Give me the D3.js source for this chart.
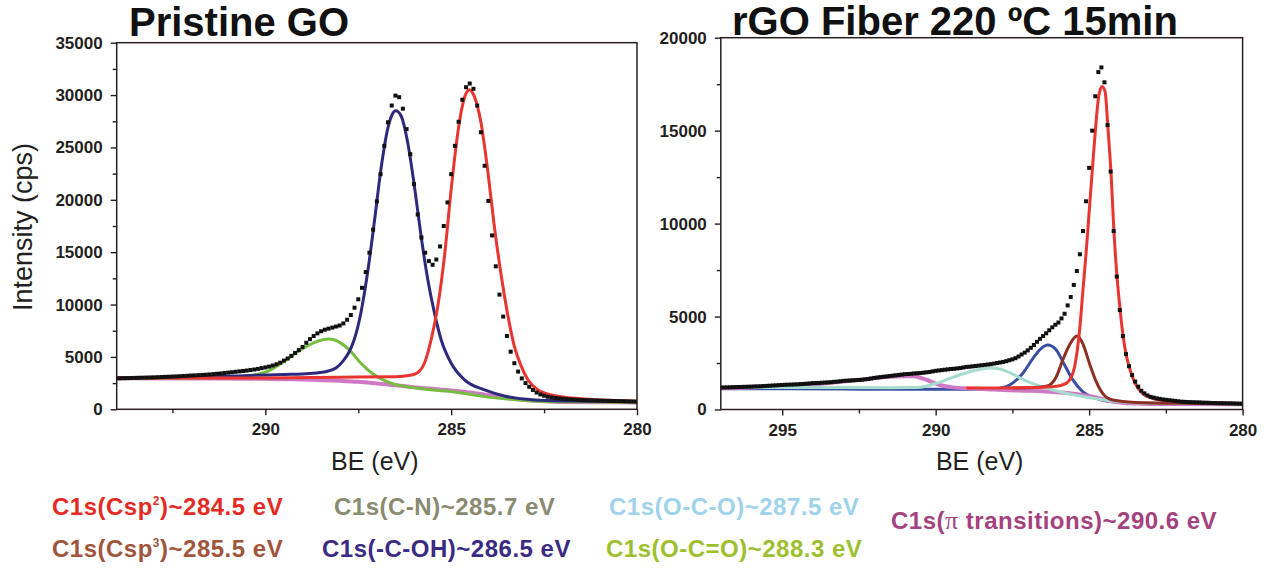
<!DOCTYPE html>
<html>
<head>
<meta charset="utf-8">
<script src="https://cdn.jsdelivr.net/npm/d3@7"></script>
<style>
  body { margin: 0; background: #fff; }
  svg { display: block; font-family: Arial, "Liberation Sans", sans-serif; }
  .tick text { font-weight: bold; font-size: 17px; fill: #231f20; }
</style>
</head>
<body>
<svg id="chart" width="1270" height="569"></svg>
<script>
// measured C1s spectra, one value every 0.1 eV
var goStart = 294.0, rgoStart = 297.0, stepEV = 0.1;

var goCounts = [
  2950,2960,2970,2980,2990,3000,3010,3020,3030,3040,3050,3065,3080,3095,3110,3125,3140,3160,3180,3200,3220,
  3240,3260,3280,3300,3330,3360,3390,3420,3460,3500,
  3540,3580,3620,3660,3700,3750,3800,3860,3930,4000,
  4080,4180,4300,4450,4650,4850,5100,5380,5650,5950,
  6350,6700,7000,7250,7450,7600,7700,7800,7900,8000,
  8200,8550,9000,9700,10500,11600,13100,14950,17150,19850,
  22450,25150,27400,29000,29950,29800,28700,26750,24350,21500,
  18600,16400,14950,14150,13800,14300,15550,17500,19750,22450,
  25150,27450,29550,30750,31100,30600,29000,26450,23250,19900,
  16600,13650,10950,8850,7000,5500,4400,3600,2950,2500,
  2150,1850,1600,1420,1300,1200,1130,1080,1040,1000,
  970,950,930,910,890,870,860,850,840,830,
  820,810,800,790,780,770,760,750,740,730
];

var rgoCounts = [
  1180,1185,1190,1195,1200,1205,1210,1215,1220,1225,1230,1240,1245,1250,1260,1270,1280,1290,1300,1310,1320,
  1330,1335,1340,1350,1355,1365,1375,1390,1400,1420,
  1425,1430,1440,1450,1460,1470,1490,1500,1520,1540,
  1550,1560,1570,1580,1590,1600,1620,1640,1670,1700,
  1720,1740,1760,1780,1800,1820,1840,1860,1880,1900,
  1910,1920,1940,1950,1960,1980,2000,2020,2050,2080,
  2100,2120,2140,2160,2180,2190,2210,2230,2260,2290,
  2300,2320,2340,2360,2380,2400,2420,2440,2470,2500,
  2530,2560,2600,2650,2700,2760,2850,2960,3060,3180,
  3320,3470,3640,3800,3950,4100,4260,4420,4560,4680,
  4900,5150,5600,6050,6700,7450,8350,9600,11200,13000,
  15000,16850,18150,18400,17600,15300,12800,9600,7150,5350,
  3950,2980,2330,1850,1500,1230,1010,870,760,680,
  640,600,570,540,520,500,480,460,440,420,
  410,400,395,390,385,380,370,365,360,350,
  345,340,340,335,330,330,325,320,315,310
];

// fitted components [BE, counts]
var goSp2 = [[294,2980],[290,3000],[288,3060],[286.5,3110],[286.2,3200],[286.0,3330],[285.85,3650],[285.72,4400],
  [285.54,6640],[285.36,9830],[285.18,14620],[285.0,21000],[284.82,26440],[284.64,29790],[284.51,30520],
  [284.38,29900],[284.2,27400],[284.01,22600],[283.84,17490],[283.65,12700],[283.47,8870],[283.3,6000],
  [283.11,4080],[282.93,2800],[282.66,1850],[282.3,1370],[281.5,1000],[281,880],[280,780]];
var goCOH = [[294,3000],[292,3080],[291,3150],[290.4,3230],[289.5,3320],[288.8,3420],[288.4,3580],[288.1,3950],
  [287.9,4650],[287.75,5450],[287.61,6640],[287.43,9200],[287.25,13030],[287.07,17820],[286.89,22920],
  [286.71,26750],[286.58,28190],[286.49,28500],[286.35,28030],[286.17,25480],[285.99,21320],[285.81,16540],
  [285.63,12390],[285.45,9200],[285.27,6640],[285.0,4400],[284.64,2810],[284.1,1850],[283.57,1270],
  [282.76,890],[282,800],[280,750]];
var goOCdO = [[294,2970],[292,2990],[291,3050],[290.5,3150],[290.2,3350],[289.95,3600],[289.5,4560],[289.05,5680],
  [288.6,6480],[288.29,6700],[287.97,6320],[287.7,5520],[287.43,4400],[287.07,3290],[286.62,2490],
  [285.9,2010],[285.0,1690],[284.1,1210],[283,850],[282,720],[280,680]];
var goPi = [[294,2970],[292,2950],[290.4,2920],[289,2850],[288,2720],[287.5,2620],[287,2460],[286.5,2290],
  [286,2110],[285.5,1960],[285,1800],[284.5,1600],[284,1350],[283.5,1080],[283,880],[282.5,760],
  [282,700],[281,680],[280,660]];

var rgoSp2 = [[289,1150],[288,1160],[287,1180],[286.5,1200],[286.18,1230],[285.75,1410],[285.53,1950],[285.4,3020],
  [285.29,4630],[285.21,6250],[285.1,8400],[284.97,11260],[284.83,14310],[284.69,16820],[284.58,17380],
  [284.48,17100],[284.39,15200],[284.28,12520],[284.2,9830],[284.1,7320],[283.99,5350],[283.89,3910],
  [283.78,2840],[283.63,1950],[283.47,1320],[283.26,870],[282.93,600],[282.49,470],[281.5,380],[280,320]];
var rgoSp3 = [[287.5,1150],[286.8,1180],[286.5,1230],[286.29,1320],[286.07,1760],[285.86,2660],[285.64,3470],
  [285.4,3950],[285.21,3560],[284.99,2480],[284.77,1500],[284.56,870],[284.23,510],[283.5,380],[282,330],[280,310]];
var rgoCOH = [[297,1120],[295,1110],[293,1100],[291,1090],[289,1090],[288.2,1100],[287.9,1150],[287.59,1320],
  [287.16,1950],[286.83,2750],[286.56,3290],[286.35,3470],[286.07,3200],[285.8,2390],[285.53,1590],
  [285.21,960],[284.77,600],[284.23,420],[283,330],[280,300]];
var rgoOCO = [[297,1180],[295,1190],[293,1180],[291.5,1170],[290.8,1180],[290.5,1200],[290.0,1400],[289.44,1730],
  [288.89,2030],[288.5,2180],[288.2,2230],[287.9,2180],[287.59,1980],[287.16,1620],[286.72,1320],
  [286.29,1100],[285.75,870],[284.88,600],[284.01,420],[283,330],[280,300]];
var rgoPi = [[297,1160],[296,1190],[294.86,1270],[294,1350],[292.69,1560],[291.6,1750],[291.1,1790],[290.75,1790],
  [290.3,1600],[289.87,1320],[289.44,1190],[288.35,1090],[287.27,1020],[286.29,960],[285.5,850],
  [284.88,690],[284.34,470],[283.8,330],[282.71,290],[280,280]];

var legendRows = [
  {text: "C1s(Csp", sup: "2", rest: ")~284.5 eV", color: "#e32b24", x: 52, y: 515},
  {text: "C1s(C-N)~285.7 eV", color: "#898a70", x: 334, y: 515},
  {text: "C1s(O-C-O)~287.5 eV", color: "#9fd3ec", x: 609, y: 515},
  {text: "C1s(", pi: true, rest: " transitions)~290.6 eV", color: "#a3427e", x: 891, y: 529},
  {text: "C1s(Csp", sup: "3", rest: ")~285.5 eV", color: "#a0553b", x: 52, y: 557},
  {text: "C1s(-C-OH)~286.5 eV", color: "#3a2a84", x: 322, y: 557},
  {text: "C1s(O-C=O)~288.3 eV", color: "#9dbf2e", x: 606, y: 557}
];

var svg = d3.select("#chart");

function drawPanel(p) {
  var x = d3.scaleLinear().domain(p.xDomain).range([p.left, p.right]),
      y = d3.scaleLinear().domain([0, p.yMax]).range([p.bottom, p.top]);
  var g = svg.append("g");

  var clipId = "clip" + p.id;
  svg.append("clipPath").attr("id", clipId).append("rect")
    .attr("x", p.left).attr("y", p.top)
    .attr("width", p.right - p.left).attr("height", p.bottom - p.top);

  var plot = g.append("g").attr("clip-path", "url(#" + clipId + ")");
  var line = d3.line().x(function(d) { return x(d[0]); }).y(function(d) { return y(d[1]); })
      .curve(d3.curveMonotoneX);

  p.fits.forEach(function(f) {
    plot.append("path").datum(f.pts)
      .attr("fill", "none").attr("stroke", f.color)
      .attr("stroke-width", f.width || 3).attr("stroke-linejoin", "round")
      .attr("d", line);
  });

  var pts = p.counts.map(function(c, i) { return [p.start - i * stepEV, c]; });
  plot.selectAll("rect.pt").data(pts).enter().append("rect")
    .attr("class", "pt")
    .attr("x", function(d) { return x(d[0]) - 2; })
    .attr("y", function(d) { return y(d[1]) - 2; })
    .attr("width", 4).attr("height", 4)
    .attr("fill", "#111");

  // minor ticks
  g.append("g").attr("transform", "translate(0," + p.bottom + ")")
    .call(d3.axisBottom(x).tickValues(p.xMinor).tickSize(4).tickFormat(""))
    .call(function(a) { a.select(".domain").remove(); });
  g.append("g").attr("transform", "translate(" + p.left + ",0)")
    .call(d3.axisLeft(y).tickValues(p.yMinor).tickSize(4).tickFormat(""))
    .call(function(a) { a.select(".domain").remove(); });

  // major ticks
  g.append("g").attr("transform", "translate(0," + p.bottom + ")")
    .call(d3.axisBottom(x).tickValues(p.xMajor).tickSize(6).tickPadding(8).tickFormat(d3.format("d")))
    .call(function(a) { a.select(".domain").remove(); });
  g.append("g").attr("transform", "translate(" + p.left + ",0)")
    .call(d3.axisLeft(y).tickValues(p.yMajor).tickSize(6).tickPadding(8).tickFormat(d3.format("d")))
    .call(function(a) { a.select(".domain").remove(); });

  g.selectAll(".tick line").attr("stroke", "#231f20").attr("stroke-width", 1.4);

  // frame
  g.append("rect")
    .attr("x", p.left).attr("y", p.top)
    .attr("width", p.right - p.left).attr("height", p.bottom - p.top)
    .attr("fill", "none").attr("stroke", "#2a1e1e").attr("stroke-width", 1.5);

  g.append("text")
    .attr("x", p.titleX).attr("y", p.titleY)
    .attr("font-size", 40).attr("font-weight", "bold").attr("fill", "#111")
    .text(p.title);

  g.append("text")
    .attr("x", (p.left + p.right) / 2 - 2).attr("y", 470)
    .attr("text-anchor", "middle").attr("font-size", 25).attr("fill", "#231f20")
    .text("BE (eV)");
}

drawPanel({
  id: "go", left: 116.7, right: 637, top: 42.7, bottom: 409.3,
  xDomain: [294, 280], yMax: 35000,
  xMajor: [290, 285, 280], xMinor: [292.5, 287.5, 282.5],
  yMajor: d3.range(0, 35001, 5000), yMinor: d3.range(2500, 35000, 5000),
  start: goStart, counts: goCounts,
  fits: [
    {pts: goPi, color: "#cf78c3", width: 4},
    {pts: goOCdO, color: "#76bd3f"},
    {pts: goCOH, color: "#2d2a7e"},
    {pts: goSp2, color: "#e8352f"}
  ],
  title: "Pristine GO", titleX: 129, titleY: 36
});

drawPanel({
  id: "rgo", left: 720.8, right: 1242.6, top: 37.7, bottom: 409.5,
  xDomain: [297, 280], yMax: 20000,
  xMajor: [295, 290, 285, 280], xMinor: [292.5, 287.5, 282.5],
  yMajor: d3.range(0, 20001, 5000), yMinor: d3.range(2500, 20000, 5000),
  start: rgoStart, counts: rgoCounts,
  fits: [
    {pts: rgoCOH, color: "#3a4ea3"},
    {pts: rgoPi, color: "#cf78c3", width: 4},
    {pts: rgoOCO, color: "#a6dccd"},
    {pts: rgoSp3, color: "#8c3023"},
    {pts: rgoSp2, color: "#e8352f"}
  ],
  title: "rGO Fiber 220 \u00baC 15min", titleX: 732, titleY: 35
});

svg.append("text")
  .attr("transform", "translate(32,227) rotate(-90)")
  .attr("text-anchor", "middle").attr("font-size", 27).attr("fill", "#231f20")
  .text("Intensity (cps)");

var leg = svg.append("g").attr("font-weight", "bold").attr("font-size", 24).attr("letter-spacing", 0.5);
legendRows.forEach(function(r) {
  var t = leg.append("text").attr("x", r.x).attr("y", r.y).attr("fill", r.color);
  t.append("tspan").text(r.text);
  if (r.sup) {
    t.append("tspan").attr("font-size", 12).attr("dy", -10).text(r.sup);
    t.append("tspan").attr("dy", 10).text(r.rest);
  } else if (r.pi) {
    t.append("tspan").attr("font-family", "'Liberation Serif', 'DejaVu Serif', serif")
      .attr("font-weight", "normal").attr("font-size", 26).text("\u03c0");
    t.append("tspan").text(r.rest);
  }
});
</script>
</body>
</html>
